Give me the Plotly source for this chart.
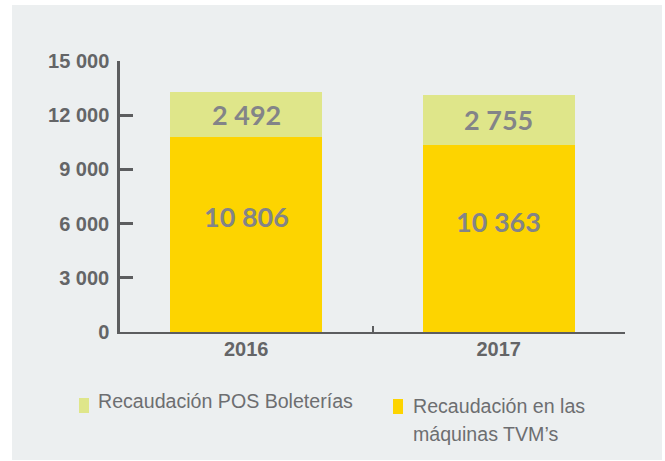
import plotly.graph_objects as go

# Recaudación por canal (miles)
years = ["2016", "2017"]
tvm = [10806, 10363]          # Recaudación en las máquinas TVM's
pos = [2492, 2755]            # Recaudación POS Boleterías
series_names = ["Recaudación POS Boleterías", "Recaudación en las<br>máquinas TVM’s"]
y_ticks = [0, 3000, 6000, 9000, 12000, 15000]

YELLOW = "#FDD400"
LIME = "#DFE68A"
BG = "#ECEFF0"
AXIS = "#5C5D5F"
TICK_TXT = "#646567"
VAL_TXT = "#838488"
LEG_TXT = "#6D6E70"

fig = go.Figure()
fig.add_trace(go.Bar(x=years, y=tvm, marker=dict(color=YELLOW, line=dict(width=0)),
                     name=series_names[1].replace("<br>", " "), hoverinfo="y"))
fig.add_trace(go.Bar(x=years, y=pos, marker=dict(color=LIME, line=dict(width=0)),
                     name=series_names[0], hoverinfo="y"))

W, H = 665, 461
L, R, T, B = 120, 40, 61, 129
pw, ph = W - L - R, H - T - B

def px(x):
    return (x - L) / pw

def py(y):
    return (H - B - y) / ph

fmt = lambda v: f"{v:,}".replace(",", " ")

value_font = dict(family="Lato", size=27, color=VAL_TXT, weight="bold")
annotations = []
for i, (a, b) in enumerate(zip(tvm, pos)):
    # category index i positions the label over its bar
    annotations.append(dict(x=i, y=a * 0.59, text=fmt(a), showarrow=False, font=value_font))
    annotations.append(dict(x=i, y=a + b / 2, text=fmt(b), showarrow=False, font=value_font))

# Manual legend: swatch + label lines
shapes = [dict(type="rect", xref="paper", yref="paper", layer="below",
               x0=px(12), x1=px(662), y0=py(460), y1=py(5),
               fillcolor=BG, line=dict(width=0))]
legend_items = [
    (series_names[0], LIME, 79, 398, 96, 400.5),
    (series_names[1], YELLOW, 393, 399, 411, 405.5),
]
for label, color, sx, sy, tx, ty in legend_items:
    shapes.append(dict(type="rect", xref="paper", yref="paper",
                       x0=px(sx), x1=px(sx + 10), y0=py(sy + 15), y1=py(sy),
                       fillcolor=color, line=dict(width=0)))
    for k, line in enumerate(label.split("<br>")):
        annotations.append(dict(x=px(tx), y=py(ty + 28 * k), xref="paper", yref="paper",
                                xanchor="left", yanchor="middle", showarrow=False,
                                text=line, font=dict(family="Liberation Sans", size=19.6,
                                                     color=LEG_TXT)))

fig.update_layout(
    width=W, height=H,
    margin=dict(l=L, r=R, t=T, b=B, pad=0),
    paper_bgcolor="white", plot_bgcolor=BG,
    barmode="stack", bargap=0.398,
    showlegend=False,
    separators=", ",
    shapes=shapes, annotations=annotations,
    xaxis=dict(
        type="category", range=[-0.5, 1.5], showgrid=False, zeroline=False,
        showline=True, linecolor=AXIS, linewidth=2,
        ticks="inside", tickson="boundaries", ticklen=6, tickwidth=2, tickcolor=AXIS,
        ticklabelstandoff=-2,
        tickfont=dict(family="Liberation Sans", size=20, color=TICK_TXT, weight="bold"),
    ),
    yaxis=dict(
        range=[0, 15000], tickvals=y_ticks, tickformat=",d",
        showgrid=False, zeroline=False,
        showline=True, linecolor=AXIS, linewidth=2.5,
        ticks="inside", ticklen=13, tickwidth=2.5, tickcolor=AXIS,
        ticklabelstandoff=4,
        tickfont=dict(family="Liberation Sans", size=20, color=TICK_TXT, weight="bold"),
    ),
)

fig.write_html("out.html")
